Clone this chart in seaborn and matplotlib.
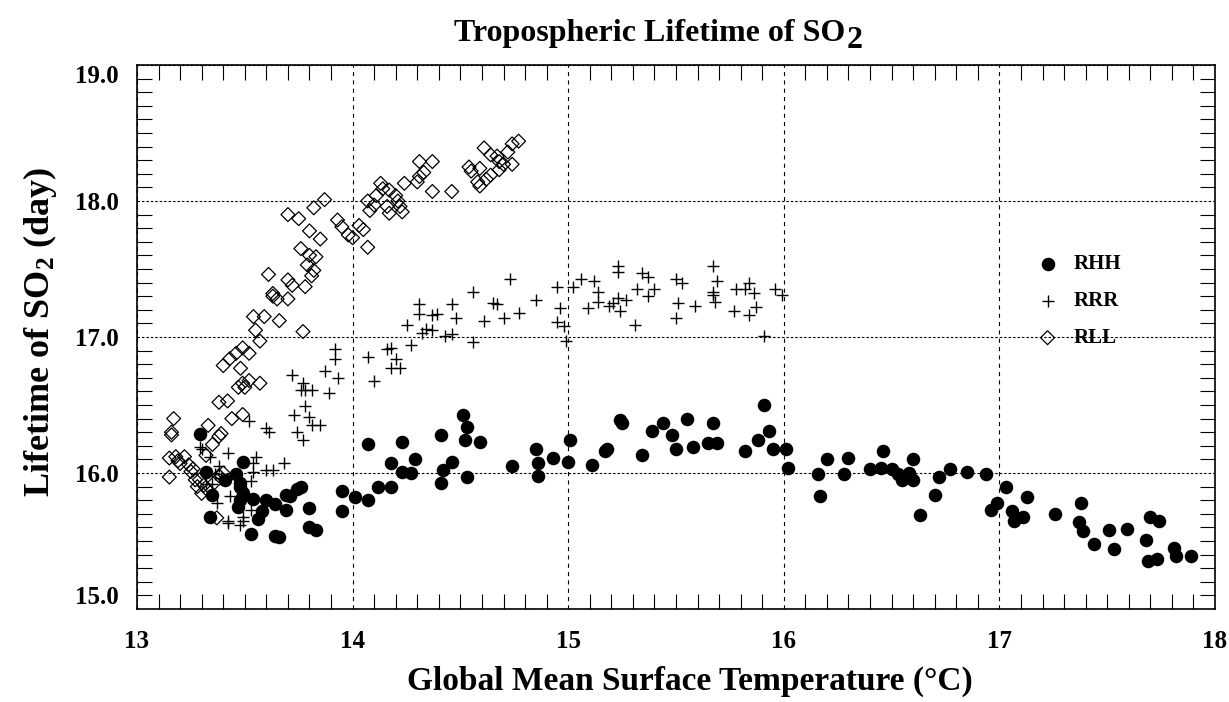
import matplotlib
matplotlib.use("Agg")
import matplotlib.pyplot as plt
import numpy as np
import pandas as pd
import seaborn as sns
from matplotlib.ticker import MultipleLocator, FixedLocator

# ---- data: global mean surface temperature (degC) vs SO2 lifetime (day) ----
rhh_temp = [13.29, 13.49, 13.32, 13.46, 13.41, 13.48, 13.35, 13.49, 13.48, 13.47, 13.54, 13.60, 13.64, 13.58,
            13.56, 13.34, 13.53, 13.64, 13.66, 13.69, 13.71, 13.74, 13.76, 13.69, 13.80, 13.80, 13.83, 13.48,
            13.95, 13.95, 14.01, 14.07, 14.07, 14.12, 14.18, 14.18, 14.23, 14.23, 14.27, 14.29, 14.41, 14.42,
            14.41, 14.46, 14.51, 14.53, 14.52, 14.59, 14.53, 14.74, 14.85, 14.86, 14.86, 14.93, 15.00, 15.01,
            15.11, 15.17, 15.18, 15.24, 15.25, 15.34, 15.39, 15.44, 15.48, 15.50, 15.55, 15.58, 15.65, 15.67,
            15.69, 15.82, 15.88, 15.91, 15.93, 15.95, 16.01, 16.02,
            16.16, 16.17, 16.20, 16.28, 16.30, 16.40, 16.45, 16.46, 16.50, 16.53, 16.55, 16.58, 16.60, 16.60,
            16.63, 16.70, 16.72, 16.77, 16.85, 16.94, 17.03, 16.96, 16.99, 17.06, 17.07, 17.11, 17.13, 17.26,
            17.38, 17.37, 17.39, 17.44, 17.51, 17.53, 17.59, 17.70, 17.74, 17.68, 17.69, 17.73, 17.81, 17.82,
            17.89]
rhh_life = [16.29, 16.08, 16.01, 15.99, 15.95, 15.93, 15.84, 15.85, 15.80, 15.75, 15.81, 15.80, 15.77, 15.72,
            15.66, 15.68, 15.55, 15.54, 15.53, 15.84, 15.83, 15.88, 15.90, 15.73, 15.74, 15.60, 15.58, 15.90,
            15.87, 15.72, 15.82, 15.80, 16.21, 15.90, 15.90, 16.07, 16.23, 16.01, 16.00, 16.10, 16.28, 16.02,
            15.93, 16.08, 16.43, 16.34, 16.24, 16.23, 15.97, 16.05, 16.18, 16.07, 15.98, 16.11, 16.08, 16.24,
            16.06, 16.16, 16.18, 16.39, 16.37, 16.13, 16.31, 16.37, 16.28, 16.18, 16.40, 16.19, 16.22, 16.37,
            16.22, 16.16, 16.24, 16.50, 16.31, 16.18, 16.18, 16.04,
            15.99, 15.83, 16.10, 15.99, 16.11, 16.03, 16.04, 16.16, 16.03, 15.99, 15.95, 16.00, 16.10, 15.95,
            15.69, 15.84, 15.97, 16.03, 16.01, 15.99, 15.90, 15.73, 15.78, 15.72, 15.65, 15.68, 15.82, 15.70,
            15.78, 15.64, 15.57, 15.48, 15.58, 15.44, 15.59, 15.68, 15.65, 15.51, 15.35, 15.37, 15.45, 15.39,
            15.39]

rrr_temp = [13.78, 13.73, 13.80, 13.81, 13.85, 13.74, 13.77, 13.52, 13.60, 13.61, 13.30, 13.42, 13.55, 13.54,
            13.68, 13.60, 13.63, 13.54, 13.38, 13.36, 13.53, 13.43, 13.37, 13.53, 13.49, 13.42, 13.42, 13.48,
            13.32, 13.35, 13.39, 13.34, 13.49, 13.29,
            13.72, 13.77, 13.76, 13.78, 13.81, 13.92, 13.92, 13.87, 13.93, 13.89, 14.07, 14.10, 14.16, 14.18,
            14.20, 14.18, 14.22, 14.25, 14.27, 14.31, 14.31, 14.32, 14.34, 14.37, 14.37, 14.39, 14.43, 14.46,
            14.46, 14.48, 14.56, 14.56, 14.61, 14.65, 14.67, 14.70, 14.73, 14.77, 14.85, 14.95, 14.96, 14.95,
            14.98, 14.99, 15.02, 15.06, 15.09, 15.12,
            15.14, 15.14, 15.19, 15.21, 15.23, 15.24, 15.27, 15.23, 15.23, 15.31, 15.32, 15.34, 15.37, 15.37,
            15.40, 15.50, 15.53, 15.51, 15.50, 15.59, 15.67, 15.69, 15.67, 15.67, 15.68, 15.77, 15.78, 15.82,
            15.84, 15.86, 15.84, 15.87, 15.91, 15.96, 15.99]
rrr_life = [16.49, 16.43, 16.41, 16.35, 16.35, 16.30, 16.24, 16.38, 16.33, 16.30, 16.18, 16.15, 16.12, 16.07,
            16.07, 16.02, 16.02, 16.01, 16.05, 15.99, 15.94, 15.83, 15.78, 15.73, 15.68, 15.65, 15.63, 15.62,
            15.92, 15.92, 15.96, 16.12, 15.65, 16.19,
            16.72, 16.66, 16.61, 16.61, 16.61, 16.91, 16.84, 16.75, 16.70, 16.59, 16.85, 16.68, 16.91, 16.92,
            16.84, 16.77, 16.77, 17.09, 16.94, 17.24, 17.17, 17.03, 17.06, 17.05, 17.16, 17.17, 17.01, 17.02,
            17.24, 17.14, 17.33, 16.96, 17.12, 17.25, 17.24, 17.14, 17.43, 17.18, 17.27, 17.37, 17.21, 17.11,
            17.08, 16.97, 17.37, 17.43, 17.21, 17.41,
            17.33, 17.26, 17.23, 17.25, 17.29, 17.19, 17.27, 17.52, 17.48, 17.09, 17.35, 17.47, 17.44, 17.30,
            17.35, 17.43, 17.40, 17.25, 17.14, 17.23, 17.52, 17.41, 17.33, 17.31, 17.26, 17.19, 17.35, 17.35,
            17.40, 17.32, 17.16, 17.22, 17.01, 17.35, 17.31]

rll_temp = [13.15, 13.15, 13.18, 13.20, 13.22, 13.16, 13.16, 13.17, 13.24, 13.25, 13.27, 13.28, 13.30, 13.32,
            13.33, 13.35, 13.38, 13.39, 13.44, 13.38, 13.42, 13.49, 13.29, 13.31, 13.33, 13.36, 13.38, 13.40,
            13.37, 13.19, 13.26,
            13.49, 13.47, 13.50, 13.52, 13.57, 13.48, 13.40, 13.43, 13.46, 13.49, 13.52, 13.57, 13.55, 13.54,
            13.59, 13.66, 13.77, 13.61, 13.63, 13.63, 13.65, 13.70, 13.72, 13.70, 13.78, 13.76, 13.80, 13.80,
            13.83, 13.79, 13.82, 13.81, 13.85, 13.70, 13.75, 13.82, 13.87, 13.93, 13.95, 13.98, 14.00, 14.07,
            14.03, 14.05,
            14.07, 14.10, 14.08, 14.13, 14.14, 14.17, 14.20, 14.21, 14.22, 14.23, 14.17, 14.24, 14.11, 14.16,
            14.30, 14.31, 14.33, 14.31, 14.37, 14.37, 14.46, 14.54, 14.55, 14.59, 14.58, 14.59, 14.62, 14.64,
            14.61, 14.64, 14.67, 14.68, 14.70, 14.74, 14.68, 14.72, 14.74, 14.77]
rll_life = [15.97, 16.11, 16.12, 16.07, 16.12, 16.28, 16.30, 16.40, 16.06, 16.01, 15.95, 15.90, 15.85, 16.13,
            16.35, 16.21, 16.27, 16.29, 16.40, 16.52, 16.53, 16.43, 15.95, 15.91, 15.87, 15.93, 15.98, 16.00,
            15.67, 16.09, 16.03,
            16.66, 16.63, 16.63, 16.68, 16.66, 16.77, 16.79, 16.84, 16.88, 16.92, 16.88, 16.97, 17.05, 17.15,
            17.15, 17.12, 17.04, 17.46, 17.32, 17.30, 17.28, 17.42, 17.38, 17.28, 17.37, 17.65, 17.78, 17.60,
            17.59, 17.53, 17.49, 17.45, 17.72, 17.90, 17.87, 17.95, 18.01, 17.86, 17.81, 17.75, 17.73, 17.66,
            17.82, 17.79,
            18.00, 17.97, 17.93, 18.13, 18.09, 18.08, 18.04, 18.00, 17.96, 17.92, 17.91, 18.13, 18.04, 17.96,
            18.14, 18.18, 18.21, 18.29, 18.29, 18.07, 18.07, 18.25, 18.22, 18.24, 18.14, 18.11, 18.16, 18.19,
            18.39, 18.34, 18.33, 18.29, 18.27, 18.27, 18.23, 18.36, 18.42, 18.44]

runs = ["RHH", "RRR", "RLL"]
x_ticks = [13, 14, 15, 16, 17, 18]
y_ticks = [15.0, 16.0, 17.0, 18.0, 19.0]
x_tick_labels = ["13", "14", "15", "16", "17", "18"]
y_tick_labels = ["15.0", "16.0", "17.0", "18.0", "19.0"]

df = pd.concat([
    pd.DataFrame({"temp": rhh_temp, "life": rhh_life, "run": "RHH"}),
    pd.DataFrame({"temp": rrr_temp, "life": rrr_life, "run": "RRR"}),
    pd.DataFrame({"temp": rll_temp, "life": rll_life, "run": "RLL"}),
], ignore_index=True)

# ---- style ----
sns.set_theme(style="white")
plt.rcParams.update({
    "font.family": ["Liberation Serif", "DejaVu Serif"],
    "font.weight": "bold",
    "axes.labelweight": "bold",
    "axes.labelcolor": "black",
    "mathtext.fontset": "custom",
    "mathtext.rm": "Liberation Serif:bold",
    "mathtext.bf": "Liberation Serif:bold",
    "mathtext.it": "Liberation Serif:bold:italic",
    "lines.scale_dashes": False,
    "axes.edgecolor": "black",
    "axes.linewidth": 1.2,
    "text.color": "black",
    "xtick.color": "black",
    "ytick.color": "black",
    "xtick.labelcolor": "black",
    "ytick.labelcolor": "black",
})

W, H = 1229, 702
fig = plt.figure(figsize=(W / 100, H / 100), dpi=100)
ax = fig.add_axes([137 / W, 1 - 609 / H, 1078 / W, 544 / H])

marker_styles = {
    "RHH": dict(marker="o", s=95, color="black", edgecolor="black", linewidth=0),
    "RRR": dict(marker="+", s=85, color="black", linewidth=1.0),
    "RLL": dict(marker="D", s=50, facecolor="none", edgecolor="black", linewidth=0.9),
}
for run in runs:
    sub = df[df["run"] == run]
    sns.scatterplot(data=sub, x="temp", y="life", ax=ax, label=run, legend=False,
                    zorder=3, **marker_styles[run])

# ---- axes, ticks and grid ----
ax.set_xlim(13, 18)
ax.set_ylim(15, 19)
ax.xaxis.set_major_locator(FixedLocator(x_ticks))
ax.yaxis.set_major_locator(FixedLocator(y_ticks))
ax.set_xticklabels(x_tick_labels)
ax.set_yticklabels(y_tick_labels)
ax.xaxis.set_minor_locator(MultipleLocator(0.1))
ax.yaxis.set_minor_locator(MultipleLocator(0.1))
ax.tick_params(which="major", length=0, labelsize=18, labelcolor="black")
ax.tick_params(axis="x", which="major", pad=15)
ax.tick_params(axis="y", which="major", pad=13)
ax.tick_params(which="minor", direction="in", length=11, width=0.8,
               top=True, bottom=True, left=True, right=True)
for lab in ax.get_xticklabels() + ax.get_yticklabels():
    lab.set_fontweight("bold")

ax.grid(False)
ax.xaxis.grid(True, which="major", color="black", linewidth=0.8, linestyle=(0, (3.0, 3.0)))
ax.yaxis.grid(True, which="major", color="black", linewidth=0.8, linestyle=(0, (1.8, 1.4)))
ax.set_axisbelow(True)
for sp in ax.spines.values():
    sp.set_visible(True)
    sp.set_color("black")
    sp.set_linewidth(1.2)

# end labels of the y axis sit inside the frame
yt = ax.yaxis.get_major_ticks()
yt[0].label1.set_verticalalignment("bottom")
yt[-1].label1.set_verticalalignment("top")

ax.set_xlabel("Global Mean Surface Temperature (°C)", fontsize=24, fontweight="bold", color="black")
ax.set_ylabel(r"Lifetime of SO$_\mathbf{2}$ (day)", fontsize=26, fontweight="bold", color="black")
ax.xaxis.label.set_verticalalignment("center")
ax.yaxis.label.set_verticalalignment("center")
ax.xaxis.set_label_coords(0.513, (609 - 681) / 544)
ax.yaxis.set_label_coords((40 - 137) / 1078, 0.51)

leg = ax.legend(loc="center left", bbox_to_anchor=(0.835, 0.566), frameon=False,
                fontsize=15, handlelength=1.0, handletextpad=0.75, labelspacing=0.82,
                borderpad=0, borderaxespad=0, scatterpoints=1)
for t in leg.get_texts():
    t.set_fontweight("bold")
    t.set_color("black")

# ---- title with a full-height, lowered subscript ----
fig.canvas.draw()
renderer = fig.canvas.get_renderer()
title_kw = dict(fontsize=23, fontweight="bold", va="center", ha="left", color="black")
t_main = fig.text(0, 0, "Tropospheric Lifetime of SO", **title_kw)
t_sub = fig.text(0, 0, "2", **title_kw)
w_main = t_main.get_window_extent(renderer).width
w_sub = t_sub.get_window_extent(renderer).width
cx, cy = 658, 34
x0 = cx - (w_main + w_sub) / 2
t_main.set_position((x0 / W, 1 - cy / H))
t_sub.set_position(((x0 + w_main + 1) / W, 1 - (cy + 7) / H))

fig.savefig("out.png", dpi=100)
